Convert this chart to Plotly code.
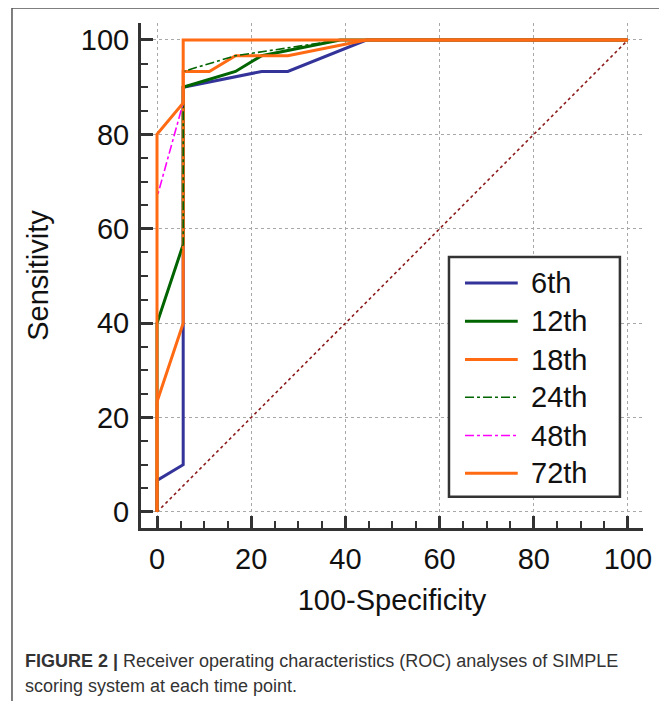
import plotly.graph_objects as go

# ---- data (100-Specificity, Sensitivity) ----
series_names = ["6th", "12th", "18th", "24th", "48th", "72th"]

x_6th = [0, 0, 5.56, 5.56, 22.22, 27.78, 44.44, 100]
y_6th = [0, 6.67, 10.0, 90.0, 93.33, 93.33, 100, 100]

x_12th = [0, 0, 5.56, 5.56, 16.67, 22.22, 38.89, 100]
y_12th = [0, 40.0, 56.67, 90.0, 93.33, 96.67, 100, 100]

x_18th = [0, 0, 5.56, 5.56, 11.11, 16.67, 27.78, 44.44, 100]
y_18th = [0, 23.33, 40.0, 93.33, 93.33, 96.67, 96.67, 100, 100]

x_24th = [0, 0, 5.56, 5.56, 16.67, 38.89, 100]
y_24th = [0, 40.0, 56.67, 93.33, 96.67, 100, 100]

x_48th = [0, 0, 5.56, 5.56, 100]
y_48th = [0, 66.67, 86.67, 100, 100]

x_72th = [0, 0, 5.56, 5.56, 100]
y_72th = [0, 80.0, 86.67, 100, 100]

ref_x = [0, 100]
ref_y = [0, 100]

tick_vals = [0, 20, 40, 60, 80, 100]

colors = ["#333399", "#006400", "#FF6A13", "#006400", "#FF00FF", "#FF6A13"]
dashes = ["solid", "solid", "solid", "dashdot", "dashdot", "solid"]
widths = [3, 3, 3, 1.6, 1.6, 3]

xs = [x_6th, x_12th, x_18th, x_24th, x_48th, x_72th]
ys = [y_6th, y_12th, y_18th, y_24th, y_48th, y_72th]

fig = go.Figure()

fig.add_trace(go.Scatter(x=ref_x, y=ref_y, mode="lines",
                         line=dict(color="#8B1A1A", width=1.6, dash="dot"),
                         showlegend=False, hoverinfo="skip"))

for name, xv, yv, c, d, w in zip(series_names, xs, ys, colors, dashes, widths):
    fig.add_trace(go.Scatter(x=xv, y=yv, mode="lines", name=name,
                             line=dict(color=c, width=w, dash=d),
                             showlegend=False))

# ---- custom legend (box + samples + labels) ----
leg_x0, leg_x1, leg_y0, leg_y1 = 62.0, 98.3, 3.2, 54.0
fig.add_shape(type="rect", xref="x", yref="y", x0=leg_x0, x1=leg_x1, y0=leg_y0, y1=leg_y1,
              line=dict(color="#333333", width=2.5), fillcolor="white", layer="above")
row_y = [48.5, 40.4, 32.3, 24.3, 16.2, 8.2]
for name, c, d, w, ry in zip(series_names, colors, dashes, widths, row_y):
    fig.add_shape(type="line", xref="x", yref="y", x0=65.4, x1=76.6, y0=ry, y1=ry,
                  line=dict(color=c, width=w, dash=d), layer="above")
    fig.add_annotation(x=79.0, y=ry, xref="x", yref="y", text=name, showarrow=False,
                       xanchor="left", yanchor="middle",
                       font=dict(family="Liberation Sans, Arial", size=29, color="#111111"))

# ---- outer frame ----
fig.add_shape(type="rect", xref="paper", yref="paper", x0=-0.257, x1=1.044, y0=-0.36, y1=1.0297,
              line=dict(color="#555555", width=1.5), layer="below")

# ---- caption ----
cap_font = dict(family="Liberation Sans, Arial", size=18, color="#333333")
fig.add_annotation(xref="paper", yref="paper", x=-0.235, y=-0.263, xanchor="left", yanchor="middle",
                   showarrow=False, align="left", font=cap_font,
                   text="<b>FIGURE 2 |</b> Receiver operating characteristics (ROC) analyses of SIMPLE")
fig.add_annotation(xref="paper", yref="paper", x=-0.235, y=-0.313, xanchor="left", yanchor="middle",
                   showarrow=False, align="left", font=cap_font,
                   text="scoring system at each time point.")

axis_common = dict(
    tickvals=tick_vals, ticks="inside", ticklen=12, tickwidth=3, tickcolor="#333333",
    showline=True, linewidth=3, linecolor="#333333", mirror=False,
    showgrid=True, gridcolor="#a8a8a8", griddash="dot", gridwidth=1,
    zeroline=False, ticklabelstandoff=3,
    tickfont=dict(family="Liberation Sans, Arial", size=29, color="#111111"),
    minor=dict(dtick=5, tick0=0, ticks="inside", ticklen=7, tickwidth=2,
               tickcolor="#333333", showgrid=False),
)

# page body has an 8px margin, so the figure is sized/offset to compensate
fig.update_layout(
    width=659, height=693,
    margin=dict(l=133, r=24, t=15, b=173),
    paper_bgcolor="white", plot_bgcolor="white",
    showlegend=False,
    xaxis=dict(range=[-3.4, 103.2], **axis_common,
               title=dict(text="100-Specificity", standoff=16,
                          font=dict(family="Liberation Sans, Arial", size=29, color="#111111"))),
    yaxis=dict(range=[-3.4, 103.6], **axis_common,
               title=dict(text="Sensitivity", standoff=24,
                          font=dict(family="Liberation Sans, Arial", size=29, color="#111111"))),
)

fig.write_html("out.html")
